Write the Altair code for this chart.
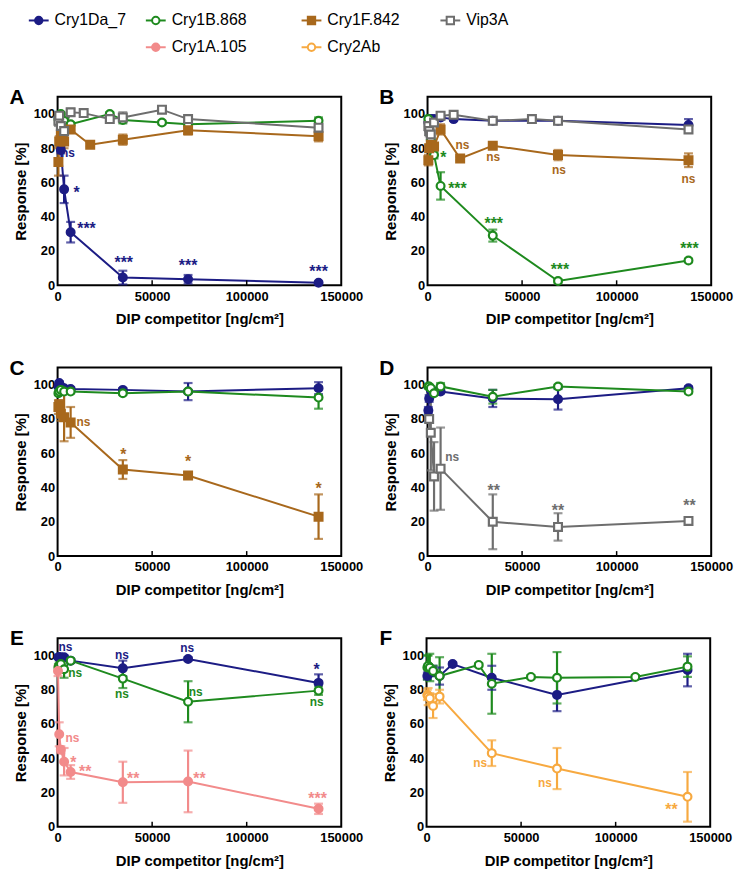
import altair as alt
import pandas as pd

# ---------------- colours / styles ----------------
NAVY = "#1c1c84"
GREEN = "#1e8a1e"
BROWN = "#a8681c"
GRAY = "#6e6e6e"
PINK = "#f28b8b"
ORANGE = "#f7a940"

STYLE = {
    "Cry1Da_7": (NAVY, "circle", True),
    "Cry1B.868": (GREEN, "circle", False),
    "Cry1F.842": (BROWN, "square", True),
    "Vip3A": (GRAY, "square", False),
    "Cry1A.105": (PINK, "circle", True),
    "Cry2Ab": (ORANGE, "circle", False),
}

X_TICKS = [0, 50000, 100000, 150000]
X_INNER_TICKS = [50000, 100000]
Y_TICKS = [0, 20, 40, 60, 80, 100]

# ---------------- legend (layout positions, px) ----------------
LEG_NAMES = ["Cry1Da_7", "Cry1B.868", "Cry1F.842", "Vip3A", "Cry1A.105", "Cry2Ab"]
LEG_COL_PX = [-19, 99, 256, 396, 99, 256]
LEG_ROW_PX = [-9, -9, -9, -9, 18, 18]

# ---------------- panel A ----------------
A_da_x = [862, 1725, 3450, 6900, 34500, 69000, 138000]
A_da_y = [96, 79, 56, 31, 4.5, 3.5, 1.5]
A_da_e = [1, 2, 8, 6, 4, 2.5, 0.5]
A_1b_x = [431, 862, 1725, 3450, 6900, 27600, 34500, 55200, 69000, 138000]
A_1b_y = [97, 99, 100, 96, 94, 100, 96.5, 95, 94, 96]
A_1b_e = [2, 1, 1, 2, 1, 1, 2, 1, 1, 2]
A_1f_x = [431, 862, 1725, 3450, 6900, 17250, 34500, 69000, 138000]
A_1f_y = [72, 84, 88, 84, 91, 82, 85, 90.5, 87]
A_1f_e = [8, 3, 3, 4, 2, 1, 3, 2.5, 3]
A_vip_x = [431, 862, 1725, 3450, 6900, 13800, 27600, 34500, 55200, 69000, 138000]
A_vip_y = [96, 99, 93, 90, 101, 100.5, 97, 98, 102.5, 97, 92]
A_vip_e = [3, 2, 3, 3, 2, 1, 1, 3, 1, 2, 3]
A_ann_text = ["ns", "*", "***", "***", "***", "***"]
A_ann_x = [5500, 10000, 15300, 35000, 69000, 138000]
A_ann_y = [77, 54, 33, 13, 11, 8]
A_ann_s = ["Cry1Da_7"] * 6

# ---------------- panel B ----------------
B_da_x = [431, 862, 1725, 3450, 6900, 13800, 34500, 69000, 138000]
B_da_y = [95, 97, 97, 97, 98, 97, 96, 96, 93.5]
B_da_e = [2, 1, 1, 1, 1, 1, 1, 1, 3.5]
B_1b_x = [431, 862, 1725, 3450, 6900, 34500, 69000, 138000]
B_1b_y = [97, 92, 85, 76, 58, 29, 2.5, 14.5]
B_1b_e = [2, 2, 2, 2, 8, 3.5, 1, 1]
B_1f_x = [431, 862, 1725, 3450, 6900, 17250, 34500, 69000, 138000]
B_1f_y = [73, 80, 82, 81, 91, 74, 81.5, 76, 73]
B_1f_e = [3, 2, 2, 2, 3, 1, 1, 3, 4]
B_vip_x = [431, 862, 1725, 3450, 6900, 13800, 34500, 55200, 69000, 138000]
B_vip_y = [93, 90, 88, 95, 99, 99.5, 96, 97, 96, 91]
B_vip_e = [3, 3, 3, 2, 2, 1, 2, 1, 2, 2]
B_ann_text = ["ns", "ns", "ns", "ns", "*", "***", "***", "***", "***"]
B_ann_x = [18400, 34700, 69500, 138000, 8400, 15800, 35000, 70000, 138500]
B_ann_y = [82, 75, 67, 62, 74, 56, 36, 9, 21]
B_ann_s = ["Cry1F.842"] * 4 + ["Cry1B.868"] * 5

# ---------------- panel C ----------------
C_da_x = [431, 862, 1725, 3450, 6900, 34500, 69000, 138000]
C_da_y = [99, 101, 99, 98, 97.5, 97, 96, 98]
C_da_e = [1, 1, 1, 1, 1, 1, 5, 3.5]
C_1b_x = [431, 862, 1725, 3450, 6900, 34500, 69000, 138000]
C_1b_y = [95, 96, 97, 96, 96, 95, 96, 92.5]
C_1b_e = [1, 1, 1, 1, 1, 1, 1, 6.5]
C_1f_x = [431, 862, 1725, 3450, 6900, 34500, 69000, 138000]
C_1f_y = [87, 88, 83, 81, 78, 50.5, 47, 23]
C_1f_e = [4, 3, 4, 14, 9, 5.5, 2, 13]
C_ann_text = ["ns", "*", "*", "*"]
C_ann_x = [13700, 34700, 69000, 138000]
C_ann_y = [78, 59, 55, 39]
C_ann_s = ["Cry1F.842"] * 4

# ---------------- panel D ----------------
D_da_x = [431, 862, 1725, 3450, 6900, 34500, 69000, 138000]
D_da_y = [85, 92, 97, 96, 96, 92, 91.5, 98]
D_da_e = [2, 2, 1, 1, 1, 5, 6, 1]
D_1b_x = [431, 862, 1725, 3450, 6900, 34500, 69000, 138000]
D_1b_y = [99, 99, 98, 95, 99, 93, 99, 96]
D_1b_e = [1, 1, 1, 1, 2, 4, 1, 1]
D_vip_x = [862, 1725, 3450, 6900, 34500, 69000, 138000]
D_vip_y = [80, 72, 46.5, 51, 20, 17, 20.5]
D_vip_e = [2, 22, 20, 24, 16, 8, 1]
D_ann_text = ["ns", "**", "**", "**"]
D_ann_x = [13000, 35000, 69000, 138500]
D_ann_y = [58, 38, 26.5, 29]
D_ann_s = ["Vip3A"] * 4

# ---------------- panel E ----------------
E_da_x = [431, 862, 1725, 3450, 6900, 34500, 69000, 138000]
E_da_y = [99, 99, 99, 99, 97, 92.5, 98, 84]
E_da_e = [1, 1, 1, 1, 1, 4.5, 1, 5]
E_1b_x = [431, 862, 1725, 3450, 6900, 34500, 69000, 138000]
E_1b_y = [93, 94, 95, 92, 97, 86.5, 73, 79.5]
E_1b_e = [2, 2, 2, 5, 1, 5.5, 12, 2.5]
E_1a_x = [216, 862, 1725, 3450, 6900, 34500, 69000, 138000]
E_1a_y = [91, 54, 45, 38, 32, 26, 26.5, 10.5]
E_1a_e = [3, 7, 2, 8, 4, 12, 18, 3]
E_ann_text = ["ns", "ns", "ns", "*", "ns", "ns", "ns", "ns",
              "ns", "*", "**", "**", "**", "***"]
E_ann_x = [4200, 34000, 68500, 137000, 9300, 34000, 73000, 137000,
           7800, 8300, 14600, 40000, 75000, 137500]
E_ann_y = [105, 100, 104.6, 91.5, 90, 77.5, 78.6, 73,
           52, 37, 32, 28, 28, 16]
E_ann_s = ["Cry1Da_7"] * 4 + ["Cry1B.868"] * 4 + ["Cry1A.105"] * 6

# ---------------- panel F ----------------
F_da_x = [431, 862, 1725, 3450, 6900, 13800, 34500, 69000, 138000]
F_da_y = [88, 93, 90, 91, 88, 95, 87, 77, 91.5]
F_da_e = [2, 2, 2, 3, 5, 1, 7, 9.5, 9.5]
F_1b_x = [431, 862, 1725, 3450, 6900, 27600, 34500, 55200, 69000, 110400, 138000]
F_1b_y = [93, 94, 93, 91, 88, 94.5, 83.5, 87.5, 87, 87.5, 93.5]
F_1b_e = [7, 6, 8, 3, 11, 1, 17.5, 1, 15, 1, 6]
F_2ab_x = [431, 862, 1725, 3450, 6900, 34500, 69000, 138000]
F_2ab_y = [77, 76, 75, 70.5, 76, 43, 34, 17.5]
F_2ab_e = [3, 5, 3, 7, 4, 7.5, 12, 14.5]
F_ann_text = ["ns", "ns", "**"]
F_ann_x = [28400, 62600, 129500]
F_ann_y = [37, 25.4, 10]
F_ann_s = ["Cry2Ab"] * 3

PANEL_W = 286
PANEL_H = 190


def make_panel(letter, series, ann_text, ann_x, ann_y, ann_s):
    rows = []
    for name, xs, ys, es in series:
        col, shp, filled = STYLE[name]
        for x, y, e in zip(xs, ys, es):
            rows.append(dict(series=name, x=x, y=y, lo=y - e, hi=y + e,
                             col=col, fillc=col if filled else "white", shape=shp))
    df = pd.DataFrame(rows)
    ann = pd.DataFrame(dict(
        x=ann_x, y=ann_y, t=ann_text,
        col=[STYLE[s][0] for s in ann_s],
        fs=[12 if t == "ns" else 16 for t in ann_text],
    ))
    xenc = alt.X("x:Q", scale=alt.Scale(domain=[0, 150000], nice=False),
                 axis=alt.Axis(values=X_TICKS, format="d", title="DIP competitor [ng/cm²]",
                               ticks=False, labelPadding=5, titlePadding=9,
                               labelFlush=False, labelOverlap=False,
                               grid=False, domain=False))
    yenc = alt.Y("y:Q", scale=alt.Scale(domain=[0, 110], nice=False),
                 axis=alt.Axis(values=Y_TICKS, title="Response [%]", ticks=False,
                               labelPadding=3, titlePadding=5, labelFlush=False,
                               labelOverlap=False, tickCount=6, grid=False, domain=False))
    base = alt.Chart(df)
    colr = alt.Color("col:N", scale=None)
    line = base.mark_line(strokeWidth=2).encode(
        x=xenc, y=yenc, detail="series:N", color=colr, order="x:Q")
    err = base.mark_rule(strokeWidth=2.2).encode(x="x:Q", y="lo:Q", y2="hi:Q", color=colr)
    cap_lo = base.mark_tick(orient="horizontal", size=9, thickness=2.2).encode(
        x="x:Q", y="lo:Q", color=colr)
    cap_hi = base.mark_tick(orient="horizontal", size=9, thickness=2.2).encode(
        x="x:Q", y="hi:Q", color=colr)
    pts = base.mark_point(filled=True, size=62, strokeWidth=2.2, opacity=1).encode(
        x="x:Q", y="y:Q",
        shape=alt.Shape("shape:N", scale=None),
        fill=alt.Fill("fillc:N", scale=None),
        stroke=alt.Stroke("col:N", scale=None))
    txt = alt.Chart(ann).mark_text(fontWeight="bold", baseline="middle", align="center").encode(
        x="x:Q", y="y:Q", text="t:N", color=colr, size=alt.Size("fs:Q", scale=None))
    lab = alt.Chart(pd.DataFrame({"t": [letter]})).mark_text(
        fontSize=21, fontWeight="bold", align="center", baseline="middle", color="black"
    ).encode(text="t:N", x=alt.value(-41), y=alt.value(1))
    tk = alt.Chart(pd.DataFrame({"x": X_INNER_TICKS})).mark_rule(
        color="black", strokeWidth=1.5).encode(
        x="x:Q", y=alt.value(PANEL_H - 5), y2=alt.value(PANEL_H))
    return alt.layer(line, err, cap_lo, cap_hi, pts, txt, lab, tk).properties(
        width=PANEL_W, height=PANEL_H)


A = make_panel("A", [("Cry1Da_7", A_da_x, A_da_y, A_da_e),
                     ("Cry1B.868", A_1b_x, A_1b_y, A_1b_e),
                     ("Cry1F.842", A_1f_x, A_1f_y, A_1f_e),
                     ("Vip3A", A_vip_x, A_vip_y, A_vip_e)],
               A_ann_text, A_ann_x, A_ann_y, A_ann_s)
B = make_panel("B", [("Cry1Da_7", B_da_x, B_da_y, B_da_e),
                     ("Cry1B.868", B_1b_x, B_1b_y, B_1b_e),
                     ("Cry1F.842", B_1f_x, B_1f_y, B_1f_e),
                     ("Vip3A", B_vip_x, B_vip_y, B_vip_e)],
               B_ann_text, B_ann_x, B_ann_y, B_ann_s)
C = make_panel("C", [("Cry1Da_7", C_da_x, C_da_y, C_da_e),
                     ("Cry1B.868", C_1b_x, C_1b_y, C_1b_e),
                     ("Cry1F.842", C_1f_x, C_1f_y, C_1f_e)],
               C_ann_text, C_ann_x, C_ann_y, C_ann_s)
D = make_panel("D", [("Cry1Da_7", D_da_x, D_da_y, D_da_e),
                     ("Cry1B.868", D_1b_x, D_1b_y, D_1b_e),
                     ("Vip3A", D_vip_x, D_vip_y, D_vip_e)],
               D_ann_text, D_ann_x, D_ann_y, D_ann_s)
E = make_panel("E", [("Cry1Da_7", E_da_x, E_da_y, E_da_e),
                     ("Cry1B.868", E_1b_x, E_1b_y, E_1b_e),
                     ("Cry1A.105", E_1a_x, E_1a_y, E_1a_e)],
               E_ann_text, E_ann_x, E_ann_y, E_ann_s)
F = make_panel("F", [("Cry1Da_7", F_da_x, F_da_y, F_da_e),
                     ("Cry1B.868", F_1b_x, F_1b_y, F_1b_e),
                     ("Cry2Ab", F_2ab_x, F_2ab_y, F_2ab_e)],
               F_ann_text, F_ann_x, F_ann_y, F_ann_s)

# legend
leg = pd.DataFrame(dict(
    name=LEG_NAMES, px=LEG_COL_PX, py=LEG_ROW_PX,
    col=[STYLE[n][0] for n in LEG_NAMES],
    fillc=[STYLE[n][0] if STYLE[n][2] else "white" for n in LEG_NAMES],
    shape=[STYLE[n][1] for n in LEG_NAMES],
))
lbase = alt.Chart(leg).transform_calculate(x0="datum.px - 10", x1="datum.px + 10")
lcol = alt.Color("col:N", scale=None)
l_rule = lbase.mark_rule(strokeWidth=2).encode(
    x=alt.X("x0:Q", scale=None, axis=None), x2="x1:Q",
    y=alt.Y("py:Q", scale=None, axis=None), color=lcol)
l_pts = lbase.mark_point(filled=True, size=55, strokeWidth=2, opacity=1).encode(
    x=alt.X("px:Q", scale=None, axis=None), y=alt.Y("py:Q", scale=None, axis=None),
    shape=alt.Shape("shape:N", scale=None),
    fill=alt.Fill("fillc:N", scale=None), stroke=alt.Stroke("col:N", scale=None))
l_txt = lbase.mark_text(align="left", baseline="middle", fontSize=16, dx=16, color="black").encode(
    x=alt.X("px:Q", scale=None, axis=None), y=alt.Y("py:Q", scale=None, axis=None), text="name:N")
legend = alt.layer(l_rule, l_pts, l_txt).properties(
    width=500, height=27, view=alt.ViewBackground(stroke="transparent"))

chart = alt.concat(
    legend,
    alt.hconcat(A, B, spacing=14),
    alt.hconcat(C, D, spacing=14),
    alt.hconcat(E, F, spacing=14),
    columns=1, spacing=29, align="none",
).properties(padding=0).configure_view(
    stroke="black", strokeWidth=2
).configure_axis(
    labelFont="Liberation Sans", labelFontSize=13, labelFontWeight="bold", labelColor="black",
    titleFont="Liberation Sans", titleFontSize=15, titleFontWeight="bold", titleColor="black",
    labelOverlap=False,
).configure_text(font="Liberation Sans")

chart.save("out.html", embed_options={"renderer": "svg", "actions": False})
